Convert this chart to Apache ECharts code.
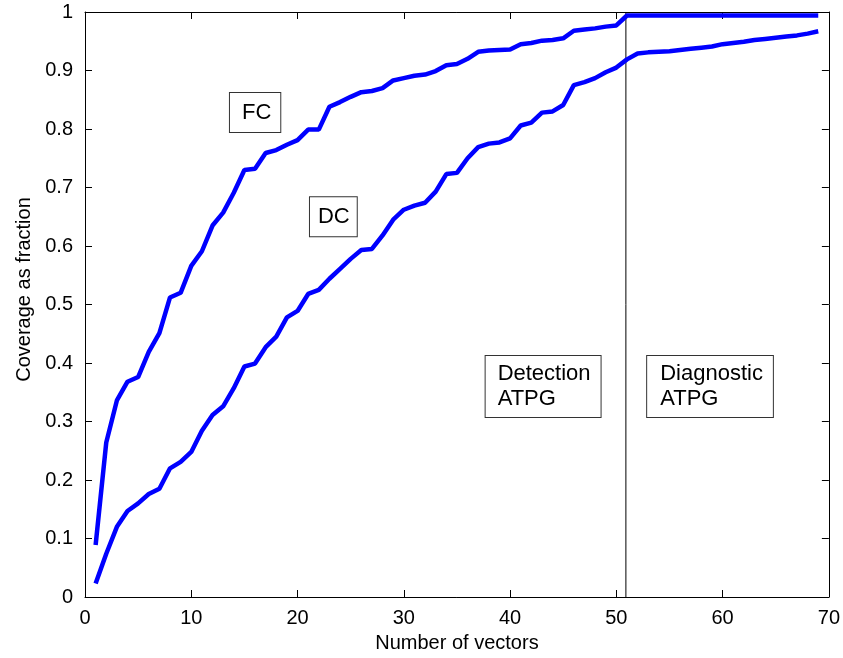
<!DOCTYPE html>
<html>
<head>
<meta charset="utf-8">
<script src="https://cdn.jsdelivr.net/npm/echarts@6/dist/echarts.min.js"></script>
<style>
  html, body { margin: 0; padding: 0; background: #fff; }
</style>
</head>
<body>
<div id="myChart" style="width:843px;height:658px;"></div><!-- chart area -->
<script>
// number of test vectors (x)
var vectors = [1,2,3,4,5,6,7,8,9,10,11,12,13,14,15,16,17,18,19,20,
  21,22,23,24,25,26,27,28,29,30,31,32,33,34,35,36,37,38,39,40,
  41,42,43,44,45,46,47,48,49,50,51,52,53,54,55,56,57,58,59,60,
  61,62,63,64,65,66,67,68,69];
// fault coverage
var fc = [0.089,0.264,0.336,0.368,0.376,0.419,0.451,0.512,0.520,0.566,
  0.591,0.635,0.657,0.691,0.730,0.732,0.759,0.764,0.773,0.781,
  0.799,0.799,0.838,0.846,0.855,0.863,0.865,0.870,0.883,0.887,
  0.891,0.893,0.899,0.909,0.911,0.920,0.932,0.934,0.935,0.936,
  0.945,0.947,0.951,0.952,0.955,0.968,0.970,0.972,0.975,0.977,
  0.994,0.994,0.994,0.994,0.994,0.994,0.994,0.994,0.994,0.994,
  0.994,0.994,0.994,0.994,0.994,0.994,0.994,0.994,0.994];
// diagnostic coverage
var dc = [0.023,0.074,0.120,0.147,0.160,0.176,0.185,0.220,0.231,0.248,
  0.284,0.311,0.326,0.357,0.394,0.399,0.427,0.445,0.478,0.489,
  0.518,0.525,0.544,0.561,0.578,0.593,0.595,0.618,0.645,0.662,
  0.669,0.674,0.693,0.723,0.725,0.750,0.769,0.775,0.777,0.784,
  0.806,0.811,0.828,0.830,0.841,0.875,0.880,0.887,0.897,0.905,
  0.919,0.929,0.931,0.932,0.933,0.935,0.937,0.939,0.941,0.945,
  0.947,0.949,0.952,0.954,0.956,0.958,0.960,0.963,0.967];
// vertical divider between detection and diagnostic ATPG
var dividerX = [50.9, 50.9];
var dividerY = [0, 1];
// text boxes (left-middle anchor in data units)
var annoText = ['FC', 'DC', 'Detection\nATPG', 'Diagnostic\nATPG'];
var annoX = [13.64, 21.17, 37.7, 52.9];
var annoY = [0.828, 0.650, 0.360, 0.360];

var FONT = '"Liberation Sans", Arial, Helvetica, sans-serif';

function pairs(xs, ys){
  var out = [];
  for (var i = 0; i < ys.length; i++) out.push([xs[i], ys[i]]);
  return out;
}

var myChart = echarts.init(document.getElementById('myChart'));
var tickStyle = { show: true, inside: true, length: 7, lineStyle: { color: '#000', width: 1 } };
var lineStyle = { show: true, onZero: false, lineStyle: { color: '#000', width: 1 } };

myChart.setOption({
  animation: false,
  grid: { left: 85, right: 14, top: 12, bottom: 61 },
  xAxis: [{
    type: 'value', min: 0, max: 70, interval: 10, position: 'bottom',
    name: 'Number of vectors', nameLocation: 'middle', nameGap: 36,
    nameTextStyle: { fontFamily: FONT, fontSize: 20, color: '#000' },
    axisLine: lineStyle, axisTick: tickStyle, splitLine: { show: false },
    axisLabel: { fontFamily: FONT, fontSize: 20, color: '#000', margin: 11 }
  }, {
    type: 'value', min: 0, max: 70, interval: 10, position: 'top',
    axisLine: lineStyle, axisTick: tickStyle, splitLine: { show: false },
    axisLabel: { show: false }
  }],
  yAxis: [{
    type: 'value', min: 0, max: 1, interval: 0.1, position: 'left',
    name: 'Coverage as fraction', nameLocation: 'middle', nameGap: 50,
    nameTextStyle: { fontFamily: FONT, fontSize: 20, color: '#000', padding: [0, 0, 0, 30] },
    axisLine: lineStyle, axisTick: tickStyle, splitLine: { show: false },
    axisLabel: { fontFamily: FONT, fontSize: 20, color: '#000', margin: 12,
      formatter: function(v){ return String(+v.toFixed(1)); } }
  }, {
    type: 'value', min: 0, max: 1, interval: 0.1, position: 'right',
    axisLine: lineStyle, axisTick: tickStyle, splitLine: { show: false },
    axisLabel: { show: false }
  }],
  series: [{
    name: 'FC', type: 'line', data: pairs(vectors, fc), showSymbol: false,
    lineStyle: { color: '#0000ff', width: 4.5 }, itemStyle: { color: '#0000ff' }
  }, {
    name: 'DC', type: 'line', data: pairs(vectors, dc), showSymbol: false,
    lineStyle: { color: '#0000ff', width: 4.5 }, itemStyle: { color: '#0000ff' }
  }, {
    name: 'divider', type: 'line', data: pairs(dividerX, dividerY), showSymbol: false,
    lineStyle: { color: '#000', width: 1 }, z: 1
  }]
});

// boxed text labels
var pads = [[7, 9, 7, 12], [7, 7, 7, 8], [6, 10, 5, 12], [6, 10, 5, 13]];
var graphics = [];
for (var i = 0; i < annoText.length; i++) {
  var p = myChart.convertToPixel({ gridIndex: 0 }, [annoX[i], annoY[i]]);
  graphics.push({
    type: 'text', x: p[0], y: p[1], z: 100,
    style: {
      text: annoText[i], font: '22px ' + FONT, fill: '#000',
      backgroundColor: '#fff', borderColor: '#333', borderWidth: 1,
      padding: pads[i], lineHeight: 25, align: 'left', verticalAlign: 'middle'
    }
  });
}
myChart.setOption({ graphic: graphics });
</script>
</body>
</html>
